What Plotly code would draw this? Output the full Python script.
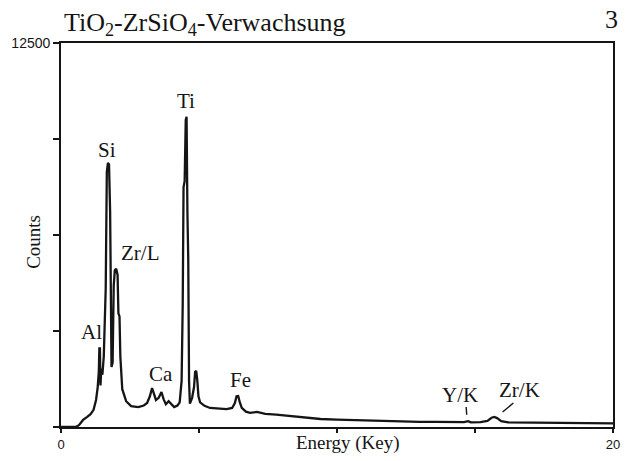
import plotly.graph_objects as go

# EDX spectrum of a TiO2-ZrSiO4 intergrowth: energy (keV) vs. counts
energy_kev = [
    0.00, 0.55, 0.65, 0.80, 0.95, 1.07, 1.18, 1.27, 1.33, 1.37, 1.39, 1.41,
    1.43, 1.46, 1.50, 1.55, 1.62, 1.66, 1.70, 1.74, 1.78, 1.80, 1.83, 1.87,
    1.91, 1.95, 2.00, 2.05, 2.08, 2.12, 2.15, 2.22, 2.36, 2.54, 2.80, 3.00,
    3.12, 3.22, 3.30, 3.36, 3.44, 3.54, 3.64, 3.72, 3.80, 3.90, 3.98, 4.10,
    4.22, 4.30, 4.37, 4.41, 4.44, 4.48, 4.52, 4.55, 4.58, 4.61, 4.64, 4.67,
    4.75, 4.82, 4.86, 4.90, 4.94, 4.98, 5.04, 5.20, 5.40, 5.70, 6.00, 6.20,
    6.30, 6.36, 6.42, 6.48, 6.55, 6.70, 6.85, 7.10, 7.40, 7.80, 8.20, 8.60,
    9.00, 9.40, 10.0, 10.6, 11.2, 11.8, 12.4, 13.0, 13.6, 14.2, 14.6, 14.75,
    14.85, 15.2, 15.45, 15.6, 15.7, 15.8, 15.95, 16.2, 17.0, 18.0, 19.0, 20.0,
]
counts = [
    0, 10, 60, 230, 330, 420, 560, 880, 1300, 1800, 2560, 2560,
    1350, 1900, 1700, 2300, 4500, 8300, 8600, 8550, 7000, 3000, 1950, 2100,
    4600, 5100, 5150, 4950, 3700, 3600, 2300, 1230, 840, 680, 650, 700,
    780, 1000, 1270, 1100, 880, 950, 1140, 900, 740, 840, 760, 650,
    700, 800, 1500, 4000, 7800, 8000, 10000, 10100, 7000, 5500, 1500, 760,
    950, 1300, 1800, 1830, 1500, 1000, 800, 690, 620, 590, 580, 620,
    780, 1000, 1010, 800, 620, 500, 460, 490, 430, 400, 370, 330,
    290, 260, 240, 225, 200, 190, 185, 170, 165, 160, 160, 190,
    150, 160, 200, 300, 330, 290, 190, 150, 140, 130, 125, 120,
]

# Peak labels (text, energy, counts)
peak_names = ["Ti", "Si", "Zr/L", "Al", "Ca", "Fe", "Y/K", "Zr/K"]
peak_label_x = [4.54, 1.68, 2.86, 1.11, 3.61, 6.50, 14.46, 16.61]
peak_label_y = [10600, 9030, 5650, 3090, 1720, 1530, 1040, 1200]

x_tickvals = [0, 5, 10, 15, 20]
x_ticktext = ["0", "", "", "", "20"]
y_tickvals = [0, 3125, 6250, 9375, 12500]
y_ticktext = ["", "", "", "", "12500"]

INK = "#151515"
SERIF = "Liberation Serif, Times New Roman, Times, serif"
SANS = "Liberation Sans, Arial, Helvetica, sans-serif"

fig = go.Figure(
    go.Scatter(
        x=energy_kev,
        y=counts,
        mode="lines",
        line=dict(color=INK, width=2.3),
        hoverinfo="x+y",
    )
)

axis_common = dict(
    showline=True,
    linecolor=INK,
    linewidth=1.8,
    mirror=True,
    ticks="outside",
    tickcolor=INK,
    tickwidth=1.5,
    showgrid=False,
    zeroline=False,
)

fig.update_layout(
    width=629,
    height=461,
    margin=dict(l=61, r=9, t=43, b=33),
    paper_bgcolor="white",
    plot_bgcolor="white",
    showlegend=False,
    font=dict(family=SERIF, color=INK),
    xaxis=dict(
        range=[0, 20],
        tickvals=x_tickvals,
        ticktext=x_ticktext,
        ticklen=4,
        tickfont=dict(family=SANS, size=13, color=INK),
        **axis_common,
    ),
    yaxis=dict(
        range=[0, 12500],
        tickvals=y_tickvals,
        ticktext=y_ticktext,
        ticklen=6,
        tickfont=dict(family=SANS, size=14, color=INK),
        **axis_common,
    ),
)

annotations = []
for name, px, py in zip(peak_names, peak_label_x, peak_label_y):
    annotations.append(
        dict(
            x=px, y=py, xref="x", yref="y", text=name, showarrow=False,
            font=dict(family=SERIF, size=21, color=INK),
            xanchor="center", yanchor="middle",
        )
    )

# Title, panel number and axis titles
annotations += [
    dict(
        x=0.0018, y=1.05, xref="paper", yref="paper",
        text="TiO<sub>2</sub>-ZrSiO<sub>4</sub>-Verwachsung",
        showarrow=False, xanchor="left", yanchor="middle",
        font=dict(family=SERIF, size=26, color=INK),
    ),
    dict(
        x=0.998, y=1.062, xref="paper", yref="paper", text="3",
        showarrow=False, xanchor="center", yanchor="middle",
        font=dict(family=SERIF, size=26, color=INK),
    ),
    dict(
        x=-0.0501, y=0.483, xref="paper", yref="paper", text="Counts",
        showarrow=False, xanchor="center", yanchor="middle", textangle=-90,
        font=dict(family=SERIF, size=19, color=INK),
    ),
    dict(
        x=0.5206, y=-0.0416, xref="paper", yref="paper", text="Energy (Key)",
        showarrow=False, xanchor="center", yanchor="middle",
        font=dict(family=SERIF, size=19, color=INK),
    ),
]
fig.update_layout(annotations=annotations)

# Short leader strokes under the Y/K and Zr/K labels
fig.add_shape(type="line", xref="x", yref="y", x0=14.68, y0=650, x1=14.70, y1=400,
              line=dict(color=INK, width=1.4))
fig.add_shape(type="line", xref="x", yref="y", x0=16.39, y0=780, x1=16.00, y1=490,
              line=dict(color=INK, width=1.4))

fig.write_html("out.html")
